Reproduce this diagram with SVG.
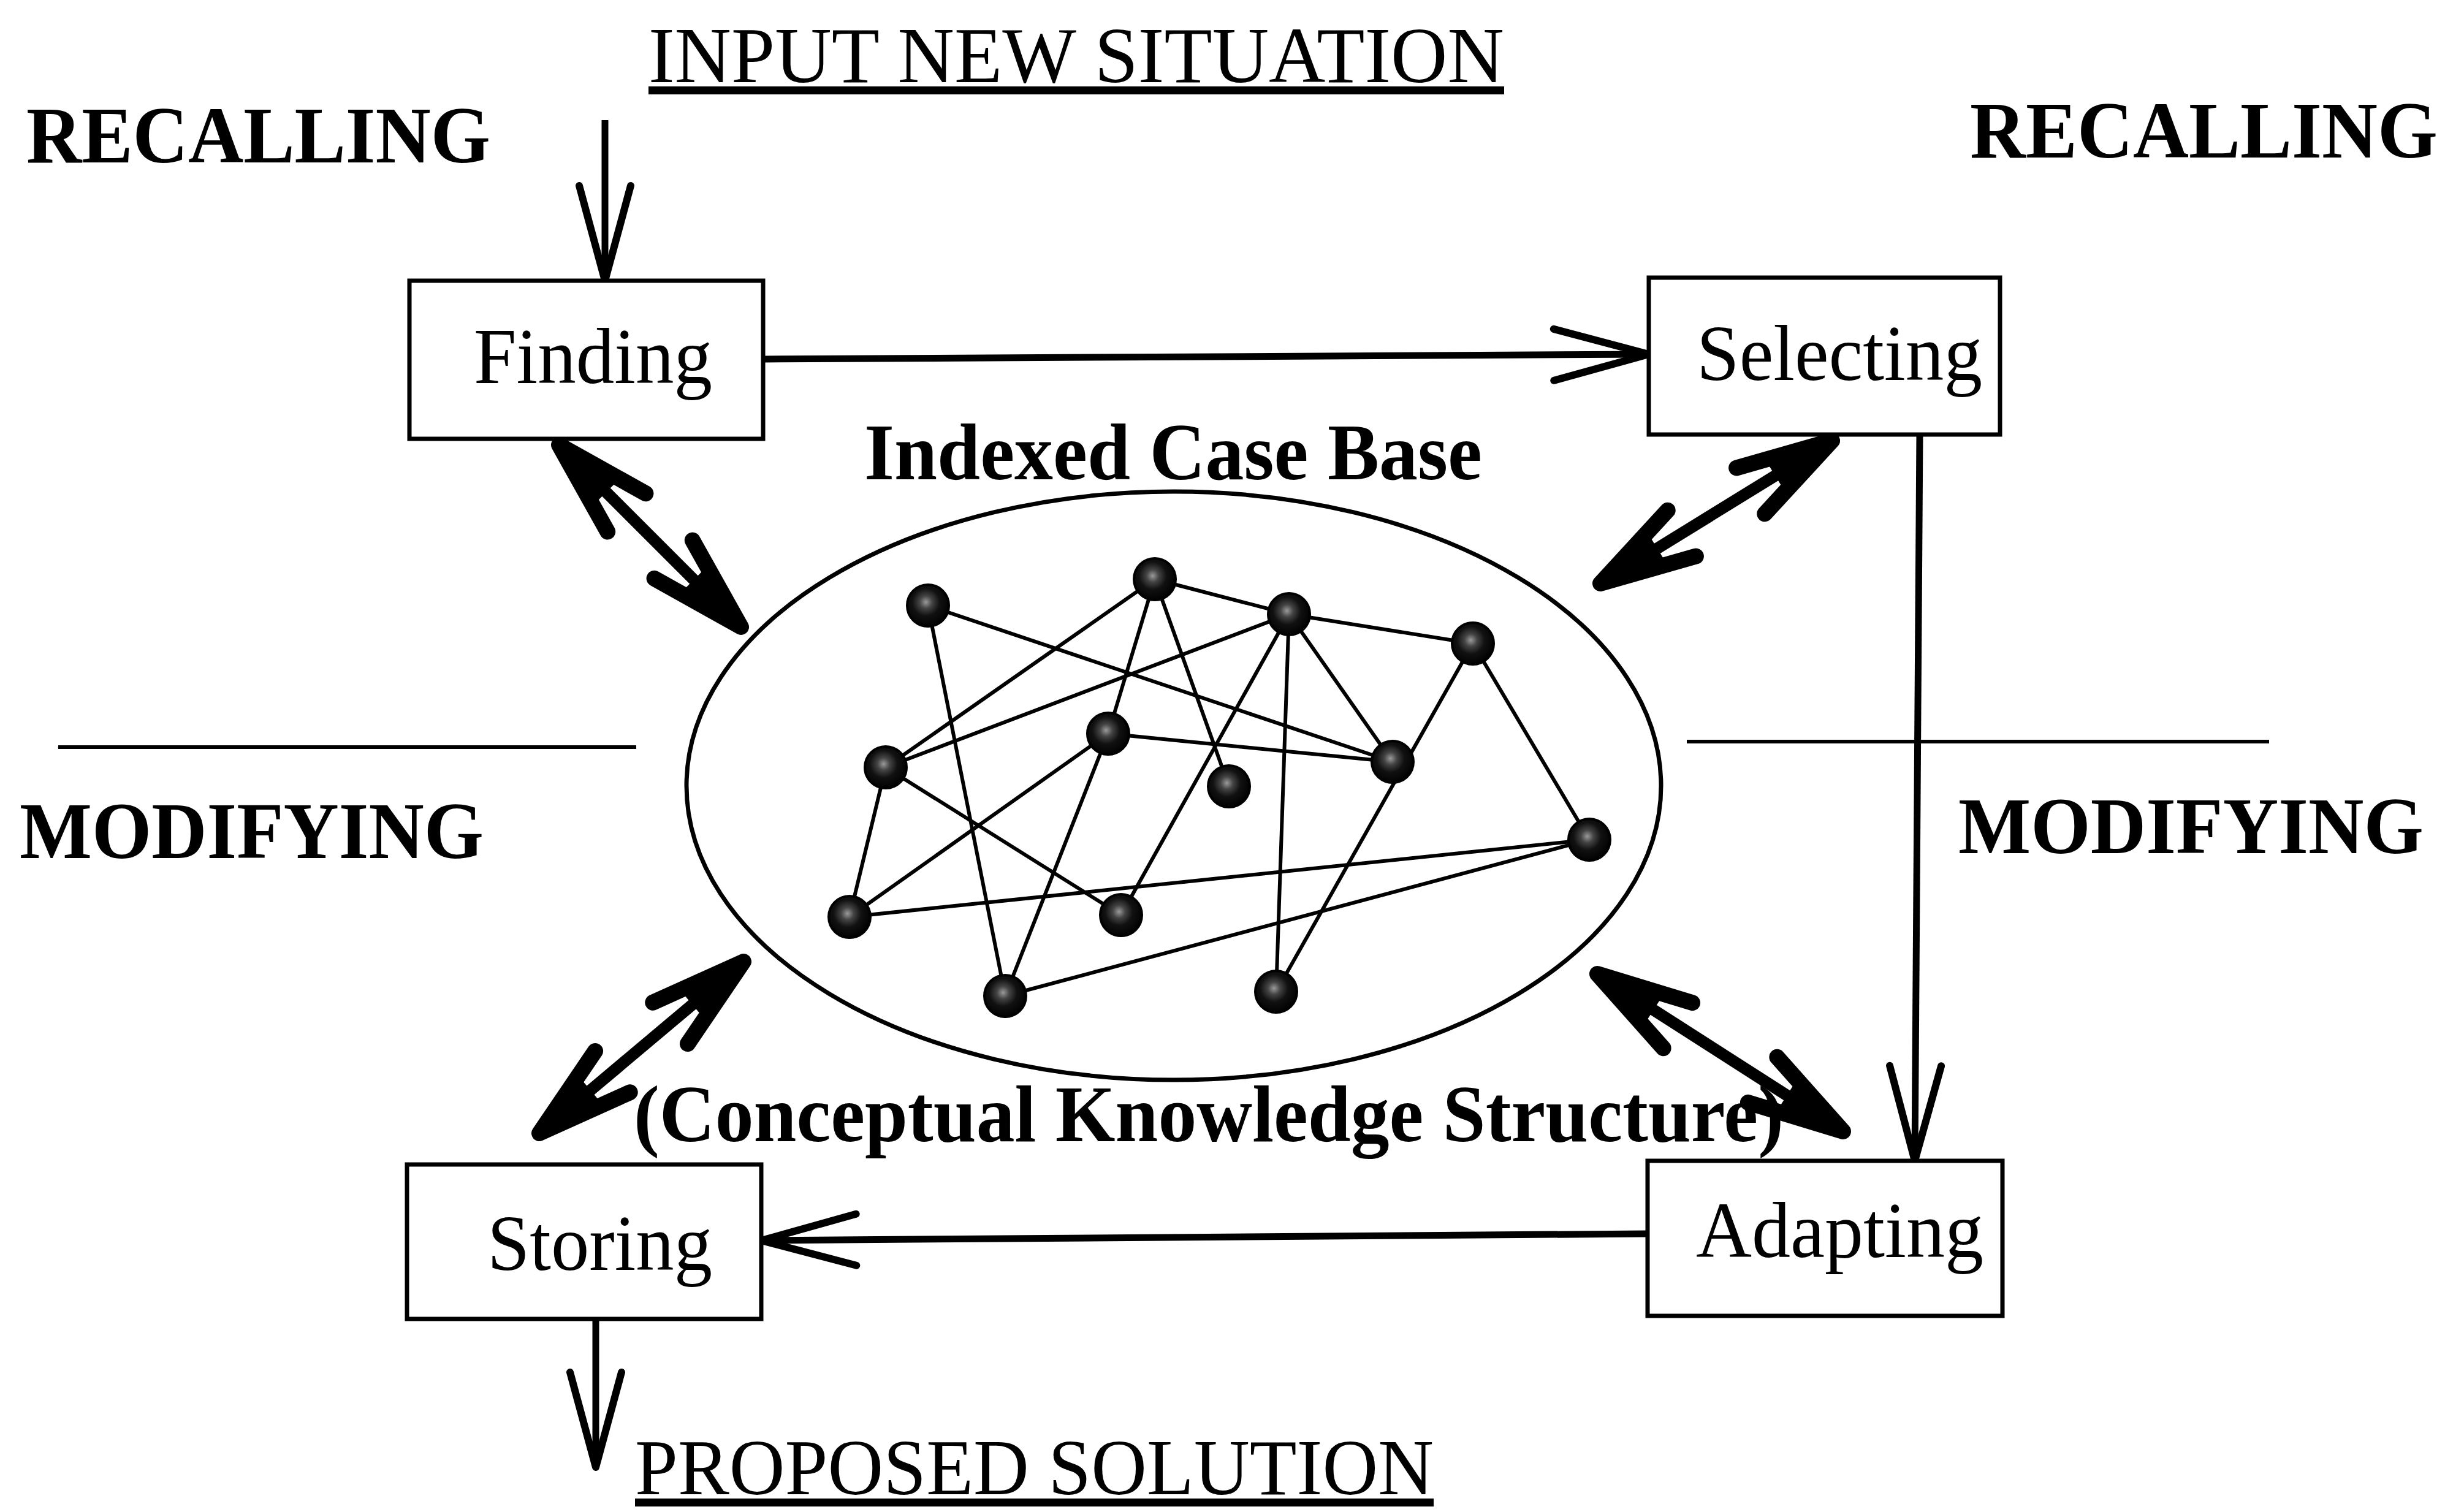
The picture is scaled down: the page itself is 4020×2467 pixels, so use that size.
<svg xmlns="http://www.w3.org/2000/svg" width="4020" height="2467" viewBox="0 0 4020 2467">
  <style>
    .label { font-family: "Liberation Serif", "Times New Roman", serif; fill: #000; }
    .reg { font-size: 130px; font-weight: normal; }
    .bold { font-size: 132px; font-weight: bold; }
    .box { fill: #fff; stroke: #000; stroke-width: 7; }
    .flow { fill: none; stroke: #000; stroke-width: 11; marker-end: url(#open-head); }
    .link { fill: none; stroke: #000; stroke-width: 19; marker-start: url(#heavy-head); marker-end: url(#heavy-head); }
    .edge { stroke: #000; stroke-width: 6; }
    .rule { stroke: #000; stroke-width: 6; }
    .case { fill: url(#node-shade); stroke: #000; stroke-width: 4; }
  </style>
  <defs>
    <!-- thin open V arrowhead -->
    <marker id="open-head" markerUnits="userSpaceOnUse" orient="auto-start-reverse"
            viewBox="-200 -100 220 200" refX="0" refY="0" markerWidth="220" markerHeight="200">
      <path d="M -155,-42 L 0,0 L -155,42" fill="none" stroke="#000" stroke-width="12"
            stroke-linecap="round" stroke-linejoin="round"/>
    </marker>
    <!-- heavy barbed arrowhead for the two-way links: solid wedge, split barbs -->
    <marker id="heavy-head" markerUnits="userSpaceOnUse" orient="auto-start-reverse"
            viewBox="-200 -100 220 200" refX="0" refY="0" markerWidth="220" markerHeight="200">
      <path d="M 0,0 L -105,-27 L -105,27 Z" fill="#000" stroke="#000" stroke-width="8" stroke-linejoin="round"/>
      <path d="M -156,-44 L 0,0 L -156,44" fill="none" stroke="#000" stroke-width="26"
            stroke-linecap="round" stroke-linejoin="round"/>
    </marker>
    <radialGradient id="node-shade" cx="0.45" cy="0.42" r="0.6">
      <stop offset="0" stop-color="#9a9a9a"/>
      <stop offset="0.25" stop-color="#444"/>
      <stop offset="0.55" stop-color="#111"/>
      <stop offset="1" stop-color="#000"/>
    </radialGradient>
  </defs>

  <rect width="4020" height="2467" fill="#fff"/>

  <!-- side headings and dividers -->
  <g id="headings">
    <text class="label bold" x="43" y="265" textLength="757" lengthAdjust="spacingAndGlyphs">RECALLING</text>
    <text class="label bold" x="3214" y="257" textLength="763" lengthAdjust="spacingAndGlyphs">RECALLING</text>
    <text class="label bold" x="32" y="1400" textLength="757" lengthAdjust="spacingAndGlyphs">MODIFYING</text>
    <text class="label bold" x="3195" y="1392" textLength="759" lengthAdjust="spacingAndGlyphs">MODIFYING</text>
    <line class="rule" x1="95" y1="1219" x2="1038" y2="1219"/>
    <line class="rule" x1="2752" y1="1210" x2="3702" y2="1210"/>
  </g>

  <g id="input">
    <text class="label reg" x="1058" y="134" textLength="1396" lengthAdjust="spacingAndGlyphs" text-decoration="underline">INPUT NEW SITUATION</text>
  </g>
  <g id="output">
    <text class="label reg" x="1036" y="2438" font-size="126" textLength="1303" lengthAdjust="spacingAndGlyphs" text-decoration="underline">PROPOSED SOLUTION</text>
  </g>

  <!-- connectors -->
  <g id="connectors">
    <line class="flow" x1="987" y1="196" x2="987" y2="458"/>
    <line class="flow" x1="1245" y1="586" x2="2690" y2="578"/>
    <line class="flow" x1="3132" y1="709" x2="3124" y2="1894"/>
    <line class="flow" x1="2688" y1="2013" x2="1242" y2="2024"/>
    <line class="flow" x1="972" y1="2152" x2="972" y2="2394"/>
    <line class="link" x1="912" y1="726" x2="1209" y2="1023"/>
    <line class="link" x1="2989" y1="719" x2="2611" y2="952"/>
    <line class="link" x1="1213" y1="1569" x2="880" y2="1849"/>
    <line class="link" x1="2606" y1="1589" x2="3007" y2="1846"/>
  </g>

  <g id="finding">
    <rect class="box" x="668" y="458" width="577" height="258"/>
    <text class="label reg" x="773" y="625" textLength="389" lengthAdjust="spacingAndGlyphs">Finding</text>
  </g>
  <g id="selecting">
    <rect class="box" x="2690" y="453" width="573" height="256"/>
    <text class="label reg" x="2768" y="620" textLength="466" lengthAdjust="spacingAndGlyphs">Selecting</text>
  </g>
  <g id="storing">
    <rect class="box" x="664" y="1900" width="578" height="252"/>
    <text class="label reg" x="795" y="2072" textLength="367" lengthAdjust="spacingAndGlyphs">Storing</text>
  </g>
  <g id="adapting">
    <rect class="box" x="2688" y="1894" width="579" height="253"/>
    <text class="label reg" x="2767" y="2051" textLength="469" lengthAdjust="spacingAndGlyphs">Adapting</text>
  </g>

  <!-- indexed case base: ellipse holding the case network -->
  <g id="case-base">
    <text class="label bold" x="1410" y="782" textLength="1008" lengthAdjust="spacingAndGlyphs">Indexed Case Base</text>
    <ellipse cx="1915" cy="1282" rx="795" ry="480" fill="none" stroke="#000" stroke-width="7"/>
    <g id="case-links">
      <line class="edge" x1="1514" y1="988" x2="2272" y2="1243"/>
      <line class="edge" x1="1514" y1="988" x2="1640" y2="1625"/>
      <line class="edge" x1="1884" y1="945" x2="1445" y2="1252"/>
      <line class="edge" x1="1884" y1="945" x2="1808" y2="1197"/>
      <line class="edge" x1="1884" y1="945" x2="2005" y2="1283"/>
      <line class="edge" x1="1884" y1="945" x2="2103" y2="1002"/>
      <line class="edge" x1="2103" y1="1002" x2="2403" y2="1050"/>
      <line class="edge" x1="2103" y1="1002" x2="1445" y2="1252"/>
      <line class="edge" x1="2103" y1="1002" x2="1829" y2="1493"/>
      <line class="edge" x1="2103" y1="1002" x2="2272" y2="1243"/>
      <line class="edge" x1="2103" y1="1002" x2="2082" y2="1618"/>
      <line class="edge" x1="2403" y1="1050" x2="2082" y2="1618"/>
      <line class="edge" x1="2403" y1="1050" x2="2593" y2="1370"/>
      <line class="edge" x1="1445" y1="1252" x2="1386" y2="1496"/>
      <line class="edge" x1="1445" y1="1252" x2="1829" y2="1493"/>
      <line class="edge" x1="1808" y1="1197" x2="2272" y2="1243"/>
      <line class="edge" x1="1808" y1="1197" x2="1386" y2="1496"/>
      <line class="edge" x1="1808" y1="1197" x2="1640" y2="1625"/>
      <line class="edge" x1="1386" y1="1496" x2="2593" y2="1370"/>
      <line class="edge" x1="1640" y1="1625" x2="2593" y2="1370"/>
    </g>
    <g id="cases">
      <circle class="case" cx="1514" cy="988" r="34"/>
      <circle class="case" cx="1884" cy="945" r="34"/>
      <circle class="case" cx="2103" cy="1002" r="34"/>
      <circle class="case" cx="2403" cy="1050" r="34"/>
      <circle class="case" cx="1445" cy="1252" r="34"/>
      <circle class="case" cx="1808" cy="1197" r="34"/>
      <circle class="case" cx="2005" cy="1283" r="34"/>
      <circle class="case" cx="2272" cy="1243" r="34"/>
      <circle class="case" cx="2593" cy="1370" r="34"/>
      <circle class="case" cx="1386" cy="1496" r="34"/>
      <circle class="case" cx="1829" cy="1493" r="34"/>
      <circle class="case" cx="1640" cy="1625" r="34"/>
      <circle class="case" cx="2082" cy="1618" r="34"/>
    </g>
    <text class="label bold" x="1034" y="1862" textLength="1876" lengthAdjust="spacingAndGlyphs">(Conceptual Knowledge Structure)</text>
  </g>
</svg>
